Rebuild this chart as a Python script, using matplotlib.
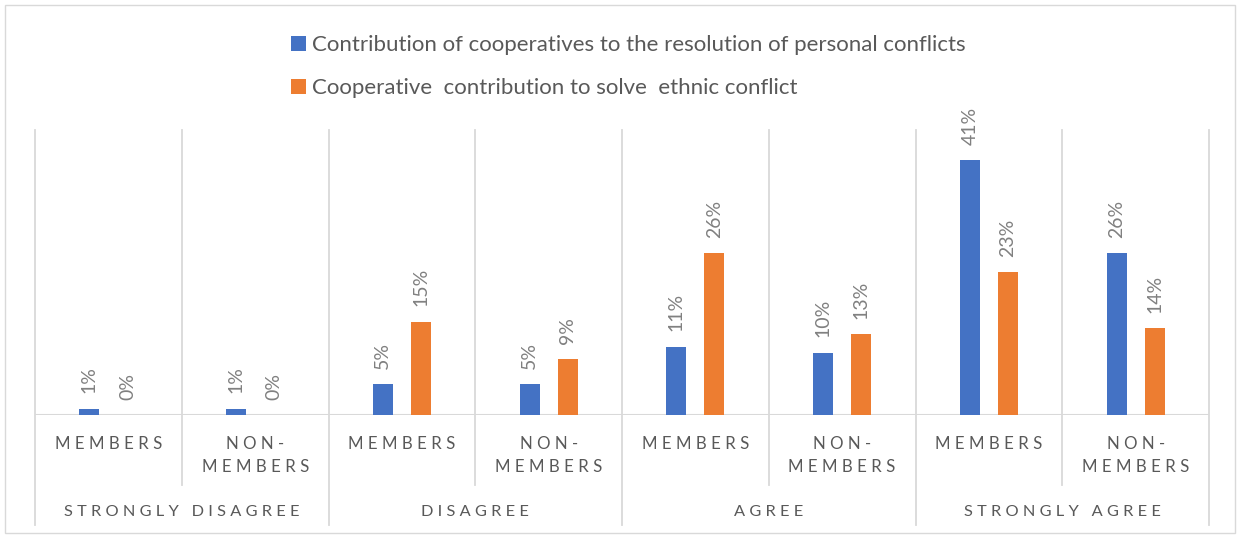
import matplotlib
matplotlib.use("Agg")
import matplotlib.pyplot as plt
import matplotlib.transforms as mtransforms
from matplotlib.lines import Line2D
from matplotlib.patches import Rectangle
import numpy as np

plt.rcParams['font.family'] = ['Lato', 'DejaVu Sans']

groups = ["STRONGLY DISAGREE", "DISAGREE", "AGREE", "STRONGLY AGREE"]
subcats = ["MEMBERS", "NON-\nMEMBERS"]
series_names = ["Contribution of cooperatives to the resolution of personal conflicts",
                "Cooperative  contribution to solve  ethnic conflict"]
personal = [1, 1, 5, 5, 11, 10, 41, 26]
ethnic = [0, 0, 15, 9, 26, 13, 23, 14]

BLUE = "#4472C4"
ORANGE = "#ED7D31"
GRID = "#D9D9D9"
TXT = "#595959"
LBL = "#808080"

W, H = 1240, 536
fig = plt.figure(figsize=(W / 100, H / 100), dpi=100)
fig.patch.set_facecolor("white")

def fx(px):
    return px / W

def fy(py):
    return 1 - py / H

ax = fig.add_axes([fx(35), fy(415), fx(1209) - fx(35), fy(130) - fy(415)])
ax.set_xlim(-0.5, 7.5)
ax.set_ylim(0, 45.8)
for s in ax.spines.values():
    s.set_visible(False)
ax.set_xticks([])
ax.set_yticks([])

x = np.arange(len(personal))
off = 0.13
bw = 0.136
b1 = ax.bar(x - off, personal, bw, color=BLUE, label=series_names[0], zorder=3)
b2 = ax.bar(x + off, ethnic, bw, color=ORANGE, label=series_names[1], zorder=3)
ax.bar_label(b1, labels=[f"{v}%" for v in personal], rotation=90, padding=11,
             color=LBL, fontsize=14)
ax.bar_label(b2, labels=[f"{v}%" for v in ethnic], rotation=90, padding=11,
             color=LBL, fontsize=14)

# gridlines & category separators
trans = mtransforms.blended_transform_factory(ax.transData, fig.transFigure)
n = len(personal)
for i in range(n + 1):
    xv = i - 0.5
    bottom = 525 if i % 2 == 0 else 485
    fig.add_artist(Line2D([xv, xv], [fy(130), fy(bottom)], transform=trans,
                          color=GRID, lw=1.3, zorder=1))
ax.axhline(0, color=GRID, lw=1.5, zorder=2)

def spaced(s):
    return "\n".join(" ".join(line) for line in s.split("\n"))

for i in range(n):
    lab = subcats[i % 2]
    t = plt.Text(i, fy(436), spaced(lab), transform=trans, ha="center", va="top",
                 color=TXT, fontsize=12.2, linespacing=1.55)
    fig.add_artist(t)
for g, name in enumerate(groups):
    t = plt.Text(2 * g + 0.5, fy(512), spaced(name), transform=trans, ha="center",
                 va="center", color=TXT, fontsize=11.8)
    fig.add_artist(t)

# legend
fig.legend(handles=[b1, b2], loc="upper left", bbox_to_anchor=(fx(280), fy(24)),
           frameon=False, fontsize=16, handlelength=0.65, handleheight=0.65,
           handletextpad=0.3, labelspacing=1.05, labelcolor=TXT, borderpad=0)

# outer border
fig.add_artist(Rectangle((fx(5), fy(533)), fx(1235) - fx(5), fy(5) - fy(533),
                         transform=fig.transFigure, fill=False, edgecolor=GRID, lw=1))

fig.savefig("out.png", dpi=100)
